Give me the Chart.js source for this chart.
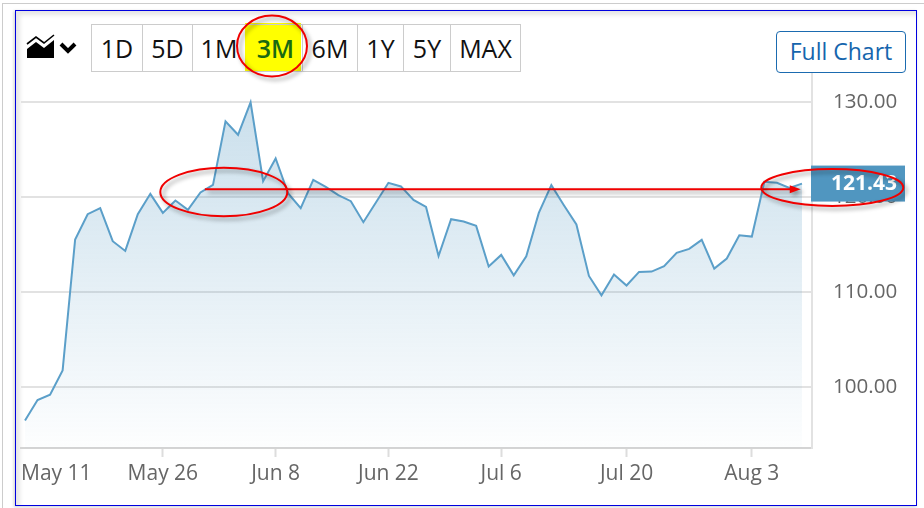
<!DOCTYPE html>
<html>
<head>
<meta charset="utf-8">
<script src="https://cdn.jsdelivr.net/npm/chart.js@4"></script>
<style>
    html, body { margin: 0; padding: 0; background: #fff; }
    #page { position: relative; width: 924px; height: 508px; overflow: hidden; font-family: "Open Sans", sans-serif; }
    #outer { position: absolute; left: 2px; top: 3px; width: 930px; height: 520px; border: 1px solid #ccc; }
    #frame { position: absolute; left: 15px; top: 10px; width: 900px; height: 494px; border: 1px solid #0000e0; background: #fff;
        box-shadow: inset 4px 4px 4px rgba(0, 0, 0, 0.1), -1px 1px 3px rgba(0, 0, 0, 0.2); }
    #icon { position: absolute; left: 26px; top: 34px; }
    #buttons { position: absolute; left: 91px; top: 24px; height: 46px; display: flex; border: 1px solid #ccc; }
    #buttons div { box-sizing: border-box; height: 46px; line-height: 46px; text-align: center; font-size: 25px; color: #111; border-left: 1px solid #ccc; }
    #buttons div:first-child { border-left: none; }
    #yellow { position: absolute; left: 245px; top: 23px; width: 56px; height: 48px; background: #ffff00; }
    #buttons div.active { color: #1a6a12; font-weight: 600; border-left: none; padding-left: 4px; }
    #full { position: absolute; left: 776px; top: 31px; width: 128px; height: 40px; line-height: 38px; text-align: center; border: 1px solid #1b6bb0;
        border-radius: 4px; font-size: 23px; color: #1565ad; font-weight: 500; background: #fff; }
    canvas { position: absolute; left: 0; top: 0; pointer-events: none; }
</style>
</head>
<body>
<div id="page">
    <div id="outer"></div>
    <div id="frame"></div>
    <svg id="icon" width="54" height="26" viewBox="0 0 54 26">
        <polygon points="1,24 1,15 10,8 18,14 28,6 28,24" fill="#000"></polygon>
        <polyline points="1,10 10,3 18,9 28,1" fill="none" stroke="#000" stroke-width="1.6"></polyline>
        <polyline points="35,10 42,17 49,10" fill="none" stroke="#000" stroke-width="4"></polyline>
    </svg>
    <div id="yellow"></div>
    <div id="buttons"></div>
    <div id="full">Full Chart</div>
    <canvas id="chart" width="924" height="508"></canvas>
</div>
<script>
const rangeLabels = [ '1D', '5D', '1M', '3M', '6M', '1Y', '5Y', 'MAX' ]
const rangeWidths = [ 50, 50, 53, 57, 55, 46, 47, 70 ]
const activeRange = '3M'

const closes = [
    96.53, 98.67, 99.24, 101.79, 115.55, 118.21, 118.84, 115.37, 114.35, 118.21,
    120.35, 118.35, 119.65, 118.66, 120.49, 121.29, 127.97, 126.56, 129.97, 121.68,
    124.07, 120.39, 118.84, 121.82, 121.08, 120.21, 119.58, 117.37, 119.44, 121.51,
    121.13, 119.72, 118.98, 113.82, 117.68, 117.44, 116.98, 112.71, 113.93, 111.79,
    113.79, 118.35, 121.26, 119.16, 117.13, 111.72, 109.68, 111.86, 110.71, 112.14,
    112.18, 112.74, 114.14, 114.56, 115.51, 112.49, 113.55, 116.00, 115.86, 121.61,
    121.51, 120.98, 121.43,
]

const firstLabel = 'May 11'
const xTickIndex = [ 11, 20, 29, 38, 48, 58 ]
const xTickLabels = [ 'May 26', 'Jun 8', 'Jun 22', 'Jul 6', 'Jul 20', 'Aug 3' ]
const yTicks = [ 100, 110, 120, 130 ]

const lastPrice = closes[closes.length - 1]
const trendLevel = 120.84
const trendStart = 14.35
const trendEnd = 61.9

//
// Range buttons
//

const buttonBox = document.getElementById('buttons')
rangeLabels.forEach((label, i) => {
    const el = document.createElement('div')
    el.textContent = label
    el.style.width = rangeWidths[i] + 'px'
    if (label === activeRange) el.className = 'active'
    buttonBox.appendChild(el)
})

//
// Hand drawn notes and the price flag
//

function ring (ctx, cx, cy, rx, ry) {
    ctx.beginPath()
    ctx.ellipse(cx, cy, rx, ry, 0, 0, Math.PI * 2)
    ctx.stroke()
}

const notes = {
    id: 'notes',
    afterDraw (chart) {
        const { ctx, scales: { x, y }, chartArea } = chart
        ctx.save()

        // first date label sits flush with the left edge, not under its point
        ctx.font = '21px "Open Sans"'
        ctx.fillStyle = '#666'
        ctx.textAlign = 'left'
        ctx.textBaseline = 'middle'
        ctx.fillText(firstLabel, chartArea.left, 474)

        // price flag
        const py = y.getPixelForValue(lastPrice)
        ctx.fillStyle = '#5096c0'
        ctx.fillRect(811, py - 18, 94, 36)
        ctx.fillStyle = '#fff'
        ctx.font = 'bold 21px "Open Sans"'
        ctx.fillText(lastPrice.toFixed(2), 831, py)

        // red marks
        ctx.strokeStyle = '#f00000'
        ctx.fillStyle = '#f00000'
        ctx.lineWidth = 2
        ctx.shadowColor = 'rgba(0, 0, 0, 0.4)'
        ctx.shadowBlur = 4
        ctx.shadowOffsetX = 3
        ctx.shadowOffsetY = 3

        const ty = y.getPixelForValue(trendLevel)
        const x0 = x.getPixelForValue(trendStart)
        const x1 = x.getPixelForValue(trendEnd)
        ctx.beginPath()
        ctx.moveTo(x0, ty)
        ctx.lineTo(x1 - 10, ty)
        ctx.stroke()
        ctx.beginPath()
        ctx.moveTo(x1, ty)
        ctx.lineTo(x1 - 11, ty - 4)
        ctx.lineTo(x1 - 11, ty + 4)
        ctx.closePath()
        ctx.fill()

        ring(ctx, 272, 46, 35, 30.5)
        ring(ctx, 223.8, 192, 63.5, 24.3)
        ring(ctx, 832.3, 187.5, 71, 18.5)

        ctx.restore()
    },
}

//
// Chart
//

const ctx = document.getElementById('chart').getContext('2d')
const chart = new Chart(ctx, {
    type: 'line',
    data: {
        datasets: [
            {
                data: closes.map((v, i) => ({ x: i, y: v })),
                borderColor: '#5b9fc9',
                borderWidth: 2,
                pointRadius: 0,
                tension: 0,
                fill: 'start',
                backgroundColor: (c) => {
                    const area = c.chart.chartArea
                    if (!area) return 'transparent'
                    const g = c.chart.ctx.createLinearGradient(0, 102, 0, area.bottom)
                    g.addColorStop(0, 'rgba(80, 150, 192, 0.3)')
                    g.addColorStop(1, 'rgba(80, 150, 192, 0.01)')
                    return g
                },
            },
        ],
    },
    plugins: [ notes ],
    options: {
        responsive: false,
        animation: false,
        layout: { padding: { left: 21, top: 74, right: 0, bottom: 0 } },
        plugins: { legend: { display: false }, tooltip: { enabled: false } },
        scales: {
            x: {
                type: 'linear',
                min: -0.32,
                max: 62.8,
                afterBuildTicks: (scale) => {
                    scale.ticks = xTickIndex.map((value) => ({ value }))
                },
                afterFit: (scale) => {
                    scale.height = 60
                },
                grid: { drawOnChartArea: false, tickLength: 9, tickColor: '#ddd', tickWidth: 2 },
                border: { color: '#d4d4d4', width: 2 },
                ticks: {
                    maxRotation: 0,
                    autoSkip: false,
                    padding: 4,
                    color: '#666',
                    font: { family: '"Open Sans"', size: 21 },
                    callback: (v) => xTickLabels[xTickIndex.indexOf(v)],
                },
            },
            y: {
                position: 'right',
                min: 93.63,
                max: 132.95,
                afterBuildTicks: (scale) => {
                    scale.ticks = yTicks.map((value) => ({ value }))
                },
                afterFit: (scale) => {
                    scale.width = 112
                },
                grid: { color: '#e2e2e2', lineWidth: 2, drawTicks: false },
                border: { color: '#e2e2e2', width: 2 },
                ticks: {
                    padding: 21,
                    color: '#666',
                    font: { family: '"Open Sans"', size: 20.6 },
                    callback: (v) => v.toFixed(2),
                },
            },
        },
    },
})
</script>
</body>
</html>
